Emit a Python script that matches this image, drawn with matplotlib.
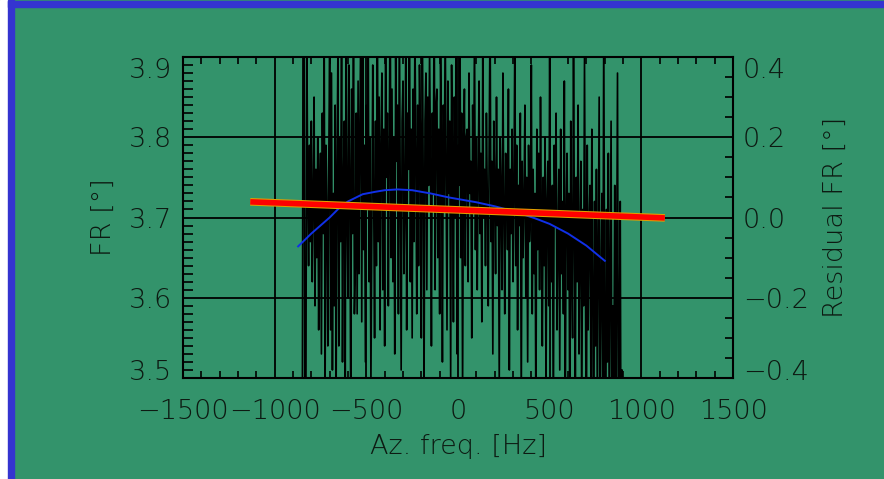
import numpy as np
import matplotlib.pyplot as plt
from matplotlib.patches import Rectangle
from matplotlib.ticker import MultipleLocator
import matplotlib.transforms as mtransforms

#azimuth frequency grid of the measured FR (Hz), 5 Hz step
freq_start = -850
freq_step = 5

fr_offset_cdeg = [
    -40, 30, 28, -30, -28, 26, 4, -6, 9, -3, 12, -8, 2, 15, -11, 6, -5, 10, -14, 3,
    8, -17, 13, -2, 25, -22, 9, 1, -16, 7, 21, -14, 18, -19, 3, -11, 14, -23, 6, 21,
    -16, 10, -3, 27, -18, 4, 12, -20, 24, 0, -10, 19, 5, -25, 16, -2, 27, -12, -6, 13,
    -12, 17, -7, 11, 26, -13, 22, -4, 9, -18, 14, 1, 25, -8, 10, -21, -2, 19, 3, -15,
    12, -6, 28, -3, 15, -14, 9, 18, -9, 11, -16, 23, 5, 13, -11, 8, 30, -5, 16, -8,
    10, -17, 20, 7, 14, -12, 26, 3, -19, 12, 17, -7, 1, 22, -14, 13, 6, 33, -8, 11,
    -15, 16, -3, 24, 8, -12, 14, -6, 19, 10, -15, 27, 6, -20, 12, 18, -9, 15, 4, 21,
    7, -16, 13, 3, 29, -9, 14, 16, -5, 11, -12, 20, 8, -18, 14, 1, 25, 6, -14, 17,
    3, 12, -20, 19, 7, -13, 15, 0, 22, -17, 9, 4, 31, -5, 13, -22, 8, 16, -6, 10,
    11, -8, 18, 3, 7, -15, 14, 1, 24, -4, 10, -9, 5, 17, -2, 8, -13, 20, 0, 6,
    -6, 13, 2, -11, 9, 26, -3, 7, -17, 12, 4, -7, 15, -1, 6, -21, 10, 3, -9, 18,
    1, -12, 8, 5, -4, 16, -19, 6, -2, 11, -8, 3, 23, -6, 9, -14, 4, -1, 13, -24,
    7, -5, 2, 14, -10, 5, -18, 9, -3, 0, 19, -12, 6, -7, 3, -26, 11, -4, 8, -9,
    15, -2, -16, 5, -6, 10, -22, 2, 7, -11, 21, -4, -8, 4, -28, 9, -1, 13, -14, -3,
    6, -19, 11, -7, 2, -12, 17, -25, 0, 8, -9, 3, -30, 12, -5, -15, 24, -2, -20, 5,
    -8, 14, -17, -3, 7, -26, 1, -11, 20, -6, -32, 9, -14, -1, 4, -22, 11, -9, -35, 2,
    -16, 6, -24, -5, 15, -30, -10, 3, -20, 25, -13, -38, 1, -18, 8, -27, -7, 12, -33, -11,
    -21, 4, -36, -9, 18, -28, -15, 2, -40, -19, -45,
]

#polynomial fit (blue)
poly_freq = [-872, -800, -700, -643, -600, -520, -452, -400, -330, -250, -150, -50,
             0, 100, 200, 300, 420, 500, 600, 700, 801]
poly_fr = [3.664, 3.680, 3.700, 3.713, 3.720, 3.729, 3.732, 3.734, 3.735, 3.734, 3.730, 3.725,
           3.723, 3.719, 3.714, 3.708, 3.699, 3.692, 3.680, 3.665, 3.646]

#linear fit (red)
lin_freq = [-1133, 1128]
lin_fr = [3.7195, 3.6995]

#tick labels
x_ticks = [-1500, -1000, -500, 0, 500, 1000, 1500]
x_labels = ['\u22121500', '\u22121000', '\u2212500', '0', '500', '1000', '1500']
y_ticks = [3.5, 3.6, 3.7, 3.8, 3.9]
y_labels = ['3.5', '3.6', '3.7', '3.8', '3.9']
r_ticks = [-0.4, -0.2, 0.0, 0.2, 0.4]
r_labels = ['\u22120.4', '\u22120.2', '0.0', '0.2', '0.4']

bg = '#33936b'
ink = '#0d1a12'
fs = 19.5
plt.rcParams['font.family'] = 'DejaVu Sans'
plt.rcParams['font.weight'] = 'light'
plt.rcParams['axes.labelweight'] = 'light'

freq = freq_start + freq_step * np.arange(len(fr_offset_cdeg))
fr = 3.70 + np.array(fr_offset_cdeg) / 100.0

fig = plt.figure(figsize=(8.84, 4.79), dpi=100, facecolor=bg)
#window border
fig.patches.append(Rectangle((0, 0), 8/884, 1, transform=fig.transFigure, color='white', zorder=0))
fig.patches.append(Rectangle((8/884, 0), 6/884, 1, transform=fig.transFigure, color='#3434d0', zorder=0))
fig.patches.append(Rectangle((8/884, 1-7/479), 1, 6/479, transform=fig.transFigure, color='#3434d0', zorder=0))

ax = fig.add_axes([183/884, 1-378/479, 550/884, 321/479])
ax.set_facecolor(bg)
ax.set_xlim(-1500, 1500)
ax.set_ylim(3.5, 3.9)

#grid at major ticks
for gx in x_ticks[1:-1]:
    ax.axvline(gx, color='black', lw=1.3, zorder=1)
for gy in y_ticks[1:-1]:
    ax.axhline(gy, color='black', lw=1.3, zorder=1)

ax.plot(freq, fr, color='black', lw=1.2, zorder=2)
ax.plot(poly_freq, poly_fr, color='#1030e8', lw=1.4, zorder=3)
ax.plot(lin_freq, lin_fr, color='#e0a000', lw=5.5, solid_capstyle='butt', zorder=4)
ax.plot(lin_freq, lin_fr, color='#ff0000', lw=4.0, solid_capstyle='butt', zorder=5)

ax.xaxis.set_minor_locator(MultipleLocator(100))
ax.yaxis.set_minor_locator(MultipleLocator(0.01))
ax.tick_params(which='both', direction='in', top=True, right=False, color='black', width=1.2)
ax.tick_params(which='major', length=0, labelsize=fs, labelcolor=ink)
ax.tick_params(axis='x', which='major', pad=15)
ax.tick_params(axis='y', which='major', pad=8)
ax.tick_params(which='minor', length=7)
ax.tick_params(axis='x', which='minor', length=5)
ax.set_xticks(x_ticks)
ax.set_xticklabels(x_labels)
ax.set_yticks(y_ticks)
ax.set_yticklabels(y_labels)
for s in ax.spines.values():
    s.set_color('black')
    s.set_linewidth(1.5)
ax.set_xlabel('Az. freq. [Hz]', fontsize=fs, color=ink, labelpad=7, fontweight='light')
ax.set_ylabel('FR [\u00b0]', fontsize=fs, color=ink, labelpad=9, fontweight='light')

ax2 = ax.twinx()
ax2.set_ylim(-0.4, 0.4)
ax2.yaxis.set_minor_locator(MultipleLocator(0.05))
ax2.set_yticks(r_ticks)
ax2.set_yticklabels(r_labels)
ax2.tick_params(which='both', direction='in', color='black', width=1.2)
ax2.tick_params(which='major', length=0, pad=7, labelsize=fs, labelcolor=ink)
ax2.tick_params(which='minor', length=6)
for s in ax2.spines.values():
    s.set_visible(False)
ax2.set_ylabel('Residual FR [\u00b0]', fontsize=fs, color=ink, labelpad=10, fontweight='light')

#end labels sit inside the axis range, as in the original
down = mtransforms.ScaledTranslation(0, -11/100, fig.dpi_scale_trans)
up = mtransforms.ScaledTranslation(0, 8/100, fig.dpi_scale_trans)
for a in (ax, ax2):
    labs = a.get_yticklabels()
    labs[-1].set_transform(labs[-1].get_transform() + down)
    labs[0].set_transform(labs[0].get_transform() + up)

fig.savefig('out.png', dpi=100, facecolor=bg)
